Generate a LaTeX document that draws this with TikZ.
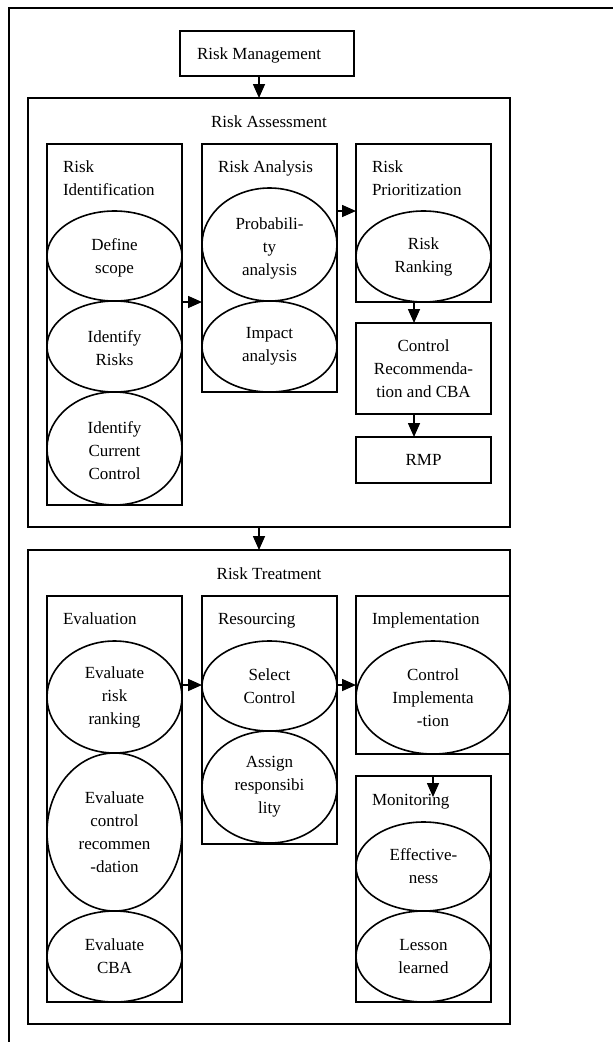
\documentclass[tikz,border=0pt]{standalone}
\usepackage{fontspec}
\setmainfont{Liberation Serif}
\usetikzlibrary{arrows.meta,shapes.geometric}
\begin{document}
\begin{tikzpicture}[x=1pt,y=-1pt,
  every node/.style={font=\fontsize{17}{23}\selectfont, inner sep=0pt, outer sep=0pt},
  box/.style={draw, line width=1.6pt, rectangle, anchor=north west, align=center},
  ell/.style={draw, line width=1.6pt, ellipse, align=center},
  ttl/.style={align=left},
  arr/.style={line width=1.6pt, -{Triangle[length=14pt,width=12pt]}},
  frameline/.style={line width=1.6pt}]
\useasboundingbox (0,0) rectangle (613,1042);
% outer frame (cut off at right and bottom)
\coordinate (ftr) at (613,8);
\coordinate (ftl) at (9,8);
\coordinate (fbl) at (9,1042);
\draw[frameline] (ftr) -- (ftl) -- (fbl);

% boxes
\node[box, minimum width=174pt, minimum height=45pt] (rm) at (180,31) {};
\node[anchor=base west] (trm) at (197,59) {Risk Management};
\node[box, minimum width=482pt, minimum height=429pt] (ra) at (28,98) {};
\node[anchor=base] (tra) at (269,127) {Risk Assessment};
\node[box, minimum width=135pt, minimum height=361pt] (ri) at (47,144) {};
\node[ttl, anchor=west] (tri) at (63,178) {Risk\\Identification};
\node[box, minimum width=135pt, minimum height=248pt] (ran) at (202,144) {};
\node[anchor=base west] (tran) at (218,172) {Risk Analysis};
\node[box, minimum width=135pt, minimum height=158pt] (rp) at (356,144) {};
\node[ttl, anchor=west] (trp) at (372,178) {Risk\\Prioritization};
\node[box, minimum width=135pt, minimum height=91pt] (cr) at (356,323) {Control\\Recommenda-\\tion and CBA};
\node[box, minimum width=135pt, minimum height=46pt] (rmp) at (356,437) {RMP};

\node[box, minimum width=482pt, minimum height=474pt] (rt) at (28,550) {};
\node[anchor=base] (trt) at (269,579) {Risk Treatment};
\node[box, minimum width=135pt, minimum height=406pt] (ev) at (47,596) {};
\node[anchor=base west] (tev) at (63,624) {Evaluation};
\node[box, minimum width=135pt, minimum height=248pt] (rs) at (202,596) {};
\node[anchor=base west] (trs) at (218,624) {Resourcing};
\node[box, minimum width=154pt, minimum height=158pt] (im) at (356,596) {};
\node[anchor=base west] (tim) at (372,624) {Implementation};
\node[box, minimum width=135pt, minimum height=226pt] (mo) at (356,776) {};
\node[anchor=base west] (tmo) at (372,805) {Monitoring};

% ellipses
\node[ell, minimum width=135pt, minimum height=90pt] (eds) at (114.5,256) {\rule{0pt}{15pt}Define\\scope};
\node[ell, minimum width=135pt, minimum height=91pt] (eir) at (114.5,346.5) {\rule{0pt}{15pt}Identify\\Risks};
\node[ell, minimum width=135pt, minimum height=113pt] (eicc) at (114.5,448.5) {\rule{0pt}{16pt}Identify\\Current\\Control};
\node[ell, minimum width=135pt, minimum height=113pt] (epa) at (269.5,244.5) {\rule{0pt}{20pt}Probabili-\\ty\\analysis};
\node[ell, minimum width=135pt, minimum height=91pt] (eia) at (269.5,346.5) {Impact\\analysis};
\node[ell, minimum width=135pt, minimum height=91pt] (err) at (423.5,256.5) {Risk\\Ranking};

\node[ell, minimum width=135pt, minimum height=112pt] (eerr) at (114.5,697) {Evaluate\\risk\\ranking};
\node[ell, minimum width=135pt, minimum height=158pt] (eecr) at (114.5,832) {Evaluate\\control\\recommen\\-dation};
\node[ell, minimum width=135pt, minimum height=91pt] (eecba) at (114.5,956.5) {Evaluate\\CBA};
\node[ell, minimum width=135pt, minimum height=90pt] (esc) at (269.5,686) {Select\\Control};
\node[ell, minimum width=135pt, minimum height=112pt] (ear) at (269.5,787) {Assign\\responsibi\\lity};
\node[ell, minimum width=154pt, minimum height=113pt] (eci) at (433,697.5) {Control\\Implementa\\-tion};
\node[ell, minimum width=135pt, minimum height=89pt] (eeff) at (423.5,866.5) {Effective-\\ness};
\node[ell, minimum width=135pt, minimum height=91pt] (ell) at (423.5,956.5) {Lesson\\learned};

% connector guide coordinates
\coordinate (xa) at (259,0);
\coordinate (xb) at (414,0);
\coordinate (ya) at (0,302);
\coordinate (yb) at (0,211);
\coordinate (yc) at (0,685);
\coordinate (mox) at (433,797);

\draw[arr] (rm.south -| xa) -- (ra.north -| xa);
\draw[arr] (ri.east |- ya) -- (ran.west |- ya);
\draw[arr] (ran.east |- yb) -- (rp.west |- yb);
\draw[arr] (rp.south -| xb) -- (cr.north -| xb);
\draw[arr] (cr.south -| xb) -- (rmp.north -| xb);
\draw[arr] (ra.south -| xa) -- (rt.north -| xa);
\draw[arr] (ev.east |- yc) -- (rs.west |- yc);
\draw[arr] (rs.east |- yc) -- (im.west |- yc);
\draw[arr] (mo.north -| mox) -- (mox);
\end{tikzpicture}
\end{document}
